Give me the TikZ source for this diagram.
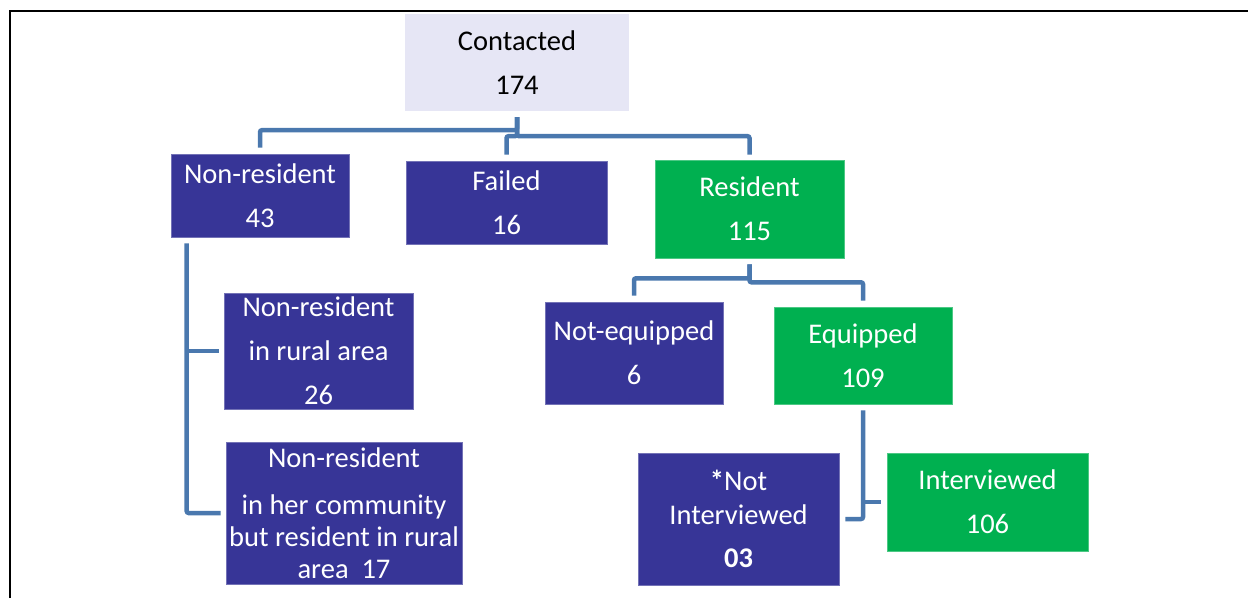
\documentclass[tikz,border=0pt]{standalone}
\usepackage{fontspec}
\setmainfont{Carlito}
\definecolor{dblue}{HTML}{373597}
\definecolor{dgreen}{HTML}{00B050}
\definecolor{lav}{HTML}{E6E6F5}
\definecolor{conncol}{HTML}{4A78AE}
\tikzset{
  box/.style={rectangle, inner sep=0pt, align=center, text=white,
    font=\fontsize{28.5}{44}\selectfont},
  bluebox/.style={box, fill=dblue, draw=dblue!70!white, line width=0.6pt},
  greenbox/.style={box, fill=dgreen, draw=dgreen!70!white, line width=0.6pt},
  topbox/.style={box, fill=lav, text=black},
  conn/.style={draw=conncol, line width=4.5pt, rounded corners=2pt},
}
\begin{document}
\begin{tikzpicture}[x=1pt, y=-1pt]
\useasboundingbox (0,0) rectangle (1248,598);
\draw[line width=2.5pt] (10,598) -- (10,11) -- (1248,11);

\node[topbox, minimum width=224pt, minimum height=97pt] (c) at (517,62.5) {Contacted\\174};
\node[bluebox, minimum width=178pt, minimum height=83pt] (nr) at (260,195.5) {Non-resident\\43};
\node[bluebox, minimum width=201pt, minimum height=83pt] (f) at (506.5,202.5) {Failed\\16};
\node[greenbox, minimum width=189pt, minimum height=98pt] (r) at (749.5,209) {Resident\\115};
\node[bluebox, minimum width=189pt, minimum height=116pt] (n1) at (318.5,351) {Non-resident\\in rural area\\26};
\node[bluebox, minimum width=236pt, minimum height=142pt, font=\fontsize{28.5}{32}\selectfont] (n2) at (344,513)
  {Non-resident\\[15pt]in her community\\but resident in rural\\area\ \ 17};
\node[bluebox, minimum width=178pt, minimum height=102pt] (ne) at (634,353) {Not-equipped\\6};
\node[greenbox, minimum width=178pt, minimum height=97pt] (eq) at (863,355.5) {Equipped\\109};
\node[bluebox, minimum width=201pt, minimum height=132pt, font=\fontsize{28.5}{34}\selectfont] (ni) at (738.5,519)
  {\textbf{*}Not\\Interviewed\\[9pt]\textbf{03}};
\node[greenbox, minimum width=201pt, minimum height=98pt] (iv) at (987.5,502) {Interviewed\\106};

% Contacted branches
\draw[conn] ([yshift=-6pt]c.south) -- ++(0,13) -| ([yshift=6pt]nr.north);
\draw[conn] ([yshift=-6pt]c.south) -- ++(0,19) -| ([yshift=6pt]f.north);
\draw[conn] ([yshift=-6pt]c.south) -- ++(0,19) -| ([yshift=5pt]r.north);

% Non-resident branches
\coordinate (nrx) at ([xshift=16pt,yshift=-6pt]nr.south west);
\draw[conn] (nrx) |- ([xshift=-5pt]n2.west);
\draw[conn] (nrx |- n1.west) -- ([xshift=-5pt]n1.west);

% Resident branches
\draw[conn] ([yshift=-6pt]r.south) -- ++(0,14) -| ([yshift=6pt]ne.north);
\draw[conn] ([yshift=-6pt]r.south) -- ++(0,18) -| ([yshift=6pt]eq.north);

% Equipped branches
\draw[conn] ([yshift=-6pt]eq.south) |- ([xshift=6pt]ni.east);
\draw[conn] (eq.south |- iv.west) -- ([xshift=-6pt]iv.west);
\end{tikzpicture}
\end{document}
